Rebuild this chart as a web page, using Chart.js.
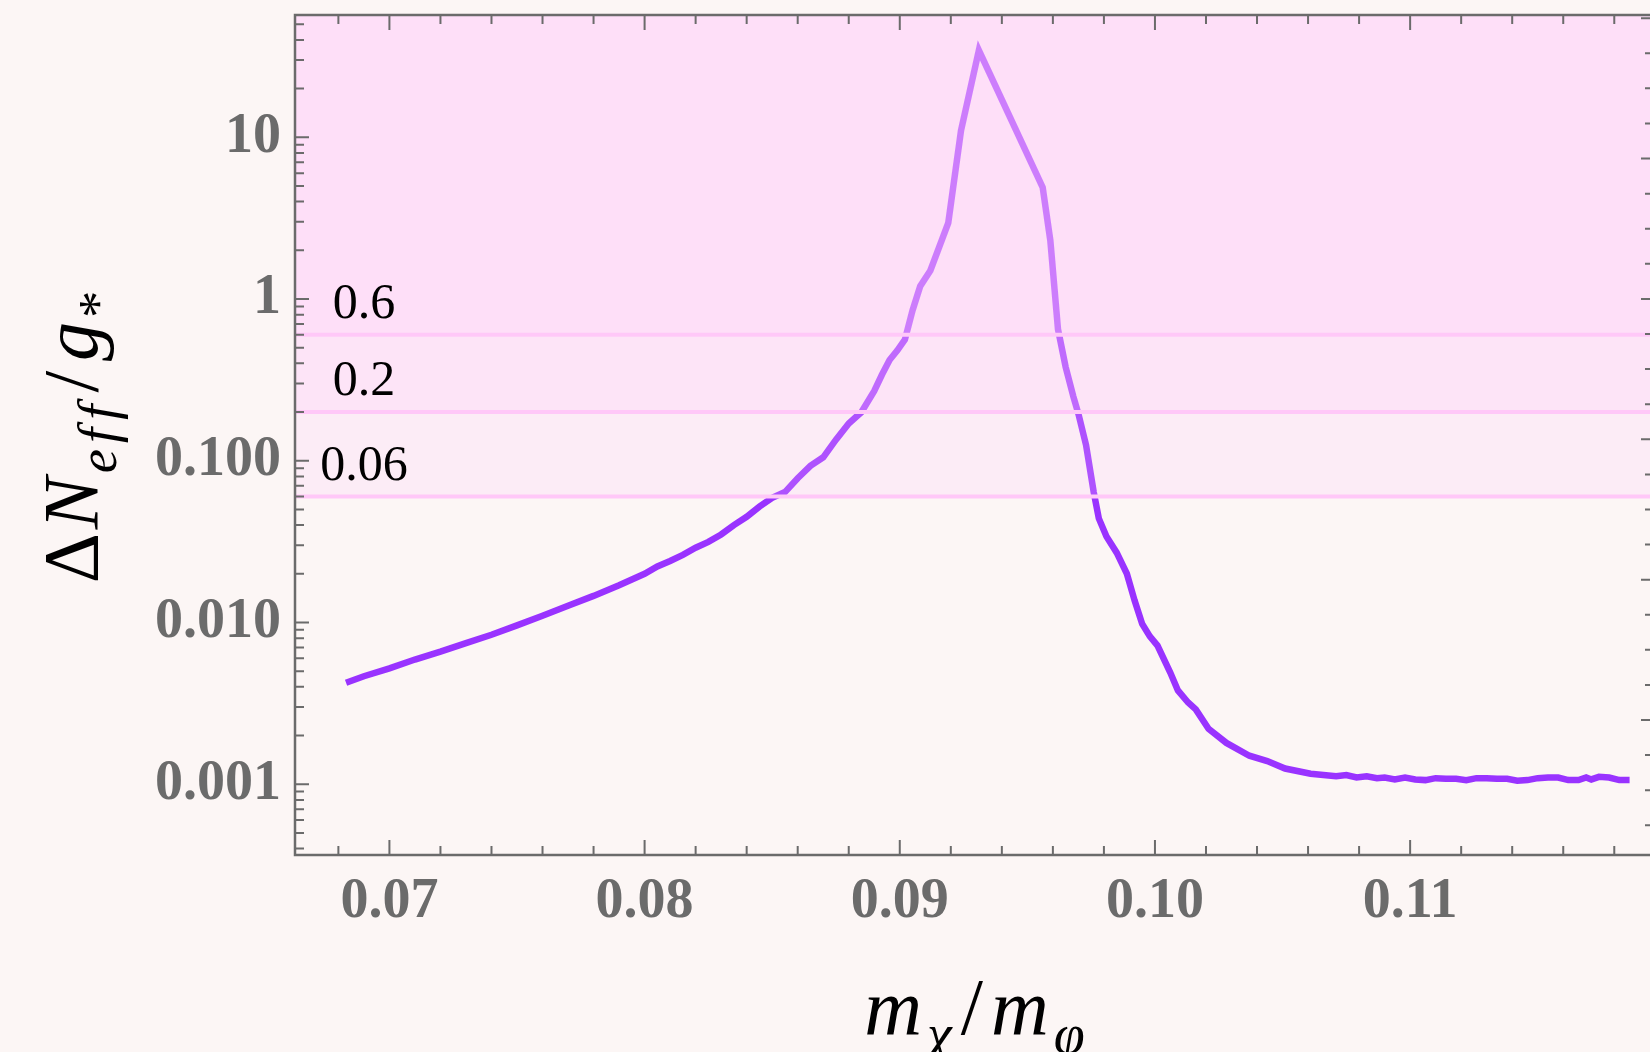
<!DOCTYPE html>
<html>
<head>
<meta charset="utf-8">
<script src="https://cdn.jsdelivr.net/npm/chart.js@4.4.0/dist/chart.umd.min.js"></script>
<style>
html, body { margin: 0; padding: 0; background: #fcf6f5; }
#wrap { width: 1650px; height: 1052px; }
</style>
</head>
<body>
<div id="wrap"><canvas id="chart"></canvas></div>
<script>
// values (m_chi/m_phi vs Delta N_eff/g_*)
var xVals = [0.0683, 0.0690, 0.0700, 0.0710, 0.0720, 0.0730, 0.0740, 0.0750, 0.0760, 0.0770,
	0.0780, 0.0790, 0.0800, 0.0805, 0.0810, 0.0815, 0.0820, 0.0825, 0.0830, 0.0835,
	0.0840, 0.0845, 0.0850, 0.0855, 0.0860, 0.0865, 0.0870, 0.0875, 0.0880, 0.0885,
	0.0890, 0.0893, 0.0896, 0.0899, 0.0902, 0.0905, 0.0908, 0.0912, 0.0919, 0.0924,
	0.0931, 0.0956, 0.0959, 0.0962, 0.0965, 0.0968, 0.0970, 0.0973, 0.0976, 0.0978,
	0.0981, 0.0985, 0.0989, 0.0992, 0.0995, 0.0998, 0.1001, 0.1006, 0.1009, 0.1013,
	0.1016, 0.1021, 0.1028, 0.1037, 0.1044, 0.1051, 0.1061, 0.1066, 0.1071, 0.1075,
	0.1079, 0.1083, 0.1087, 0.1090, 0.1094, 0.1098, 0.1102, 0.1106, 0.1110, 0.1114,
	0.1118, 0.1122, 0.1126, 0.1130, 0.1134, 0.1138, 0.1142, 0.1146, 0.1150, 0.1154,
	0.1158, 0.1162, 0.1166, 0.1169, 0.1171, 0.1174, 0.1178, 0.1182, 0.1186];
var yVals = [0.00424, 0.00465, 0.00520, 0.00590, 0.00660, 0.00745, 0.00840, 0.00960, 0.0110, 0.0127,
	0.0146, 0.0170, 0.0200, 0.0222, 0.0240, 0.0262, 0.0290, 0.0315, 0.0350, 0.0400,
	0.0450, 0.0520, 0.0590, 0.0640, 0.0780, 0.0930, 0.1050, 0.1350, 0.1700, 0.2000,
	0.2700, 0.3400, 0.4200, 0.4800, 0.5600, 0.8500, 1.20, 1.50, 2.95, 11.0,
	34.5, 4.90, 2.30, 0.65, 0.38, 0.25, 0.195, 0.125, 0.064, 0.044,
	0.034, 0.027, 0.020, 0.0137, 0.0098, 0.0082, 0.0072, 0.0049, 0.0038, 0.0032,
	0.0029, 0.0022, 0.0018, 0.0015, 0.00139, 0.00125, 0.00116, 0.00114, 0.00112, 0.00114,
	0.00110, 0.00112, 0.00109, 0.00110, 0.00107, 0.00110, 0.00107, 0.00106, 0.00109, 0.00108,
	0.00108, 0.00106, 0.00109, 0.00109, 0.00108, 0.00108, 0.00105, 0.00106, 0.00109, 0.00110,
	0.00110, 0.00106, 0.00106, 0.00110, 0.00107, 0.00111, 0.00110, 0.00106, 0.00106];

var thresholds = [0.06, 0.2, 0.6];
var thresholdLabels = ['0.06', '0.2', '0.6'];
var thresholdLabelX = 0.069;

var xTicks = [0.07, 0.08, 0.09, 0.10, 0.11];
var xTickLabels = ['0.07', '0.08', '0.09', '0.10', '0.11'];
var yTicks = [0.001, 0.01, 0.1, 1, 10];
var yTickLabels = ['0.001', '0.010', '0.100', '1', '10'];

var tickFont = { family: '"Liberation Serif", serif', weight: 'bold', size: 56 };
var axisGray = '#6b6b6b';

// draws a little math string with subscripts, centred on cx
function drawMath(ctx, parts, size, cx, baseY) {
	var total = 0;
	var items = parts.map(function(p) {
		var fs = p.sub ? size * 0.7 : size;
		var font = (p.it ? 'italic ' : '') + fs + 'px "Liberation Serif", serif';
		ctx.font = font;
		var w = ctx.measureText(p.t).width + (p.pad || 0) * 2;
		total += w;
		return { t: p.t, font: font, w: w, pad: p.pad || 0, dy: p.sub ? size * 0.24 : 0 };
	});
	var x = cx - total / 2;
	ctx.fillStyle = '#000';
	ctx.textAlign = 'left';
	ctx.textBaseline = 'alphabetic';
	items.forEach(function(it) {
		ctx.font = it.font;
		ctx.fillText(it.t, x + it.pad, baseY + it.dy);
		x += it.w;
	});
}

function noPad(s) {
	s.paddingTop = 0; s.paddingBottom = 0; s.paddingLeft = 0; s.paddingRight = 0;
}

var framePlugin = {
	id: 'frame',
	afterDatasetsDraw: function(chart) {
		var ctx = chart.ctx, a = chart.chartArea;
		var x = chart.scales.x, y = chart.scales.y, y2 = chart.scales.y2;

		ctx.save();
		ctx.beginPath();
		ctx.rect(a.left, a.top, a.right - a.left, a.bottom - a.top);
		ctx.clip();
		// stacked translucent fills above each limit
		ctx.fillStyle = 'rgba(253,200,248,0.21)';
		thresholds.forEach(function(t) {
			var py = y.getPixelForValue(t);
			ctx.fillRect(a.left, a.top, a.right - a.left, py - a.top);
		});
		ctx.strokeStyle = '#ffc8f8';
		ctx.lineWidth = 4;
		thresholds.forEach(function(t) {
			var py = y.getPixelForValue(t);
			ctx.beginPath();
			ctx.moveTo(a.left, py);
			ctx.lineTo(a.right, py);
			ctx.stroke();
		});
		ctx.restore();

		// limit labels
		ctx.save();
		ctx.font = '50px "Liberation Serif", serif';
		ctx.fillStyle = '#000';
		ctx.textAlign = 'center';
		ctx.textBaseline = 'alphabetic';
		thresholds.forEach(function(t, i) {
			ctx.fillText(thresholdLabels[i], x.getPixelForValue(thresholdLabelX), y.getPixelForValue(t) - 17);
		});
		ctx.restore();

		// frame and ticks
		ctx.save();
		ctx.strokeStyle = axisGray;
		ctx.lineWidth = 2.5;
		ctx.beginPath();
		ctx.moveTo(a.right, a.top);
		ctx.lineTo(a.left, a.top);
		ctx.lineTo(a.left, a.bottom);
		ctx.lineTo(a.right, a.bottom);
		ctx.stroke();
		ctx.lineWidth = 2;
		ctx.beginPath();
		for (var i = 34; i <= 59; i++) {
			var v = i * 0.002;
			var px = x.getPixelForValue(v);
			if (px < a.left || px > a.right) continue;
			var len = (i % 5 === 0) ? 15 : 9;
			ctx.moveTo(px, a.bottom); ctx.lineTo(px, a.bottom - len);
			ctx.moveTo(px, a.top); ctx.lineTo(px, a.top + len);
		}
		for (var k = -4; k <= 1; k++) {
			for (var m = 1; m <= 9; m++) {
				var val = m * Math.pow(10, k);
				var py = y.getPixelForValue(val);
				if (py < a.top || py > a.bottom) continue;
				var l = (m === 1) ? 14 : 9;
				ctx.moveTo(a.left, py); ctx.lineTo(a.left + l, py);
			}
		}
		for (var j = Math.ceil(y2.min); j <= Math.floor(y2.max); j++) {
			var qy = y2.getPixelForValue(j);
			var rl = (j % 4 === 0) ? 9 : 5;
			ctx.moveTo(a.right, qy); ctx.lineTo(a.right - rl, qy);
		}
		ctx.stroke();
		ctx.restore();

		// axis titles
		ctx.save();
		drawMath(ctx, [
			{ t: 'm', it: true, pad: 2 }, { t: '\u03c7', it: true, sub: true, pad: 3 },
			{ t: '/', pad: 6 },
			{ t: 'm', it: true, pad: 2 }, { t: '\u03c6', it: true, sub: true, pad: 3 }
		], 80, 975, 1034);
		ctx.translate(97, 437);
		ctx.rotate(-Math.PI / 2);
		drawMath(ctx, [
			{ t: '\u0394', pad: 2 }, { t: 'N', it: true, pad: 2 },
			{ t: 'e', it: true, sub: true, pad: 2 }, { t: 'f', it: true, sub: true, pad: 4 }, { t: 'f', it: true, sub: true, pad: 4 },
			{ t: '/', pad: 8 },
			{ t: 'g', it: true, pad: 2 }, { t: '*', sub: true, pad: 2 }
		], 78, 0, 0);
		ctx.restore();
	}
};

var ctx = document.getElementById('chart').getContext('2d');
var chart = new Chart(ctx, {
	type: 'line',
	data: {
		datasets: [{
			data: xVals.map(function(v, i) { return { x: v, y: yVals[i] }; }),
			borderColor: '#9933ff',
			borderWidth: 6.5,
			pointRadius: 0,
			tension: 0,
			fill: false
		}]
	},
	options: {
		responsive: true,
		maintainAspectRatio: false,
		animation: false,
		devicePixelRatio: 1,
		layout: { padding: { top: 15, left: 0, right: 0, bottom: 0 } },
		plugins: { legend: { display: false }, tooltip: { enabled: false } },
		scales: {
			x: {
				type: 'linear',
				min: 0.0663,
				max: 0.1194,
				grid: { display: false, drawTicks: false },
				border: { display: false },
				ticks: {
					font: tickFont,
					color: axisGray,
					padding: 14,
					maxRotation: 0,
					callback: function(v, i) { return xTickLabels[i]; }
				},
				afterBuildTicks: function(s) { s.ticks = xTicks.map(function(v) { return { value: v }; }); },
				afterFit: function(s) { s.height = 197; noPad(s); }
			},
			y: {
				type: 'logarithmic',
				min: 0.000365,
				max: 57,
				grid: { display: false, drawTicks: false },
				border: { display: false },
				ticks: {
					font: tickFont,
					color: axisGray,
					padding: 14,
					callback: function(v, i) { return yTickLabels[i]; }
				},
				afterBuildTicks: function(s) { s.ticks = yTicks.map(function(v) { return { value: v }; }); },
				afterFit: function(s) { s.width = 295; noPad(s); }
			},
			y2: {
				type: 'linear',
				position: 'right',
				display: false,
				min: 0.154,
				max: 24.09
			}
		}
	},
	plugins: [framePlugin]
});
</script>
</body>
</html>
